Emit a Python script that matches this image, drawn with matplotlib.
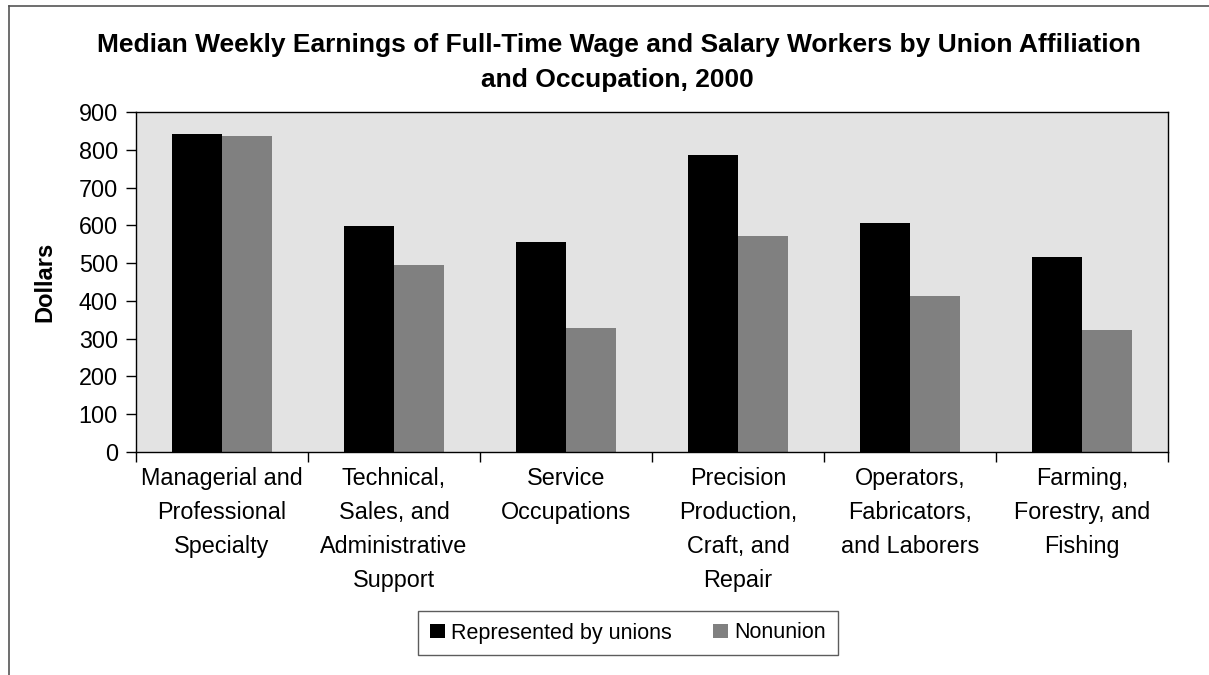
import matplotlib
matplotlib.use("Agg")
import matplotlib.pyplot as plt
import numpy as np
from matplotlib.lines import Line2D

plt.rcParams['font.family'] = ['Liberation Sans', 'DejaVu Sans']

categories = [
    "Managerial and\nProfessional\nSpecialty",
    "Technical,\nSales, and\nAdministrative\nSupport",
    "Service\nOccupations",
    "Precision\nProduction,\nCraft, and\nRepair",
    "Operators,\nFabricators,\nand Laborers",
    "Farming,\nForestry, and\nFishing",
]
union = [841, 597, 555, 785, 605, 515]
nonunion = [836, 496, 327, 571, 412, 324]
series_names = ["Represented by unions", "Nonunion"]
yticks = [0, 100, 200, 300, 400, 500, 600, 700, 800, 900]
title_lines = ["Median Weekly Earnings of Full-Time Wage and Salary Workers by Union Affiliation",
               "and Occupation, 2000"]
ylabel = "Dollars"

W, H = 1209, 675
fig = plt.figure(figsize=(W / 100, H / 100), dpi=100)
fig.patch.set_facecolor('white')

L, R, T, B = 136, 1168, 112, 452
ax = fig.add_axes([L / W, 1 - B / H, (R - L) / W, (B - T) / H])
ax.set_facecolor('#E3E3E3')

x = np.arange(len(categories)) + 0.5
bw = 0.289
ax.bar(x - bw / 2, union, width=bw, color='black', label=series_names[0], zorder=2)
ax.bar(x + bw / 2, nonunion, width=bw, color='#808080', label=series_names[1], zorder=2)

ax.set_xlim(0, len(categories))
ax.set_ylim(0, 900)
ax.set_yticks(yticks)
ax.set_yticklabels([str(v) for v in yticks], fontsize=16.8)
ax.set_xticks(x)
ax.set_xticklabels(categories, fontsize=16.8, linespacing=1.6)
ax.set_xticks(np.arange(len(categories) + 1), minor=True)
ax.tick_params(axis='x', which='major', length=0, pad=11)
ax.tick_params(axis='x', which='minor', length=7, width=1, direction='out', color='black')
ax.tick_params(axis='y', which='major', length=7, width=1, direction='out', pad=6, color='black')
for s in ax.spines.values():
    s.set_color('black')
    s.set_linewidth(1.0)

ax.set_ylabel(ylabel, fontsize=17, fontweight='bold', va='center')
ax.yaxis.set_label_coords(-0.088, 0.5)

fig.text(619 / W, 1 - 52 / H, title_lines[0], fontsize=19, fontweight='bold',
         ha='center', va='baseline')
fig.text(617 / W, 1 - 87 / H, title_lines[1], fontsize=19, fontweight='bold',
         ha='center', va='baseline')

leg = fig.legend(loc='center', bbox_to_anchor=(628 / W, 1 - 633 / H), ncol=2,
                 fontsize=15.5, frameon=True, fancybox=False, shadow=False,
                 handlelength=0.7, handleheight=0.6, handletextpad=0.3,
                 columnspacing=1.9, borderpad=0.55)
leg.get_frame().set_edgecolor('#333333')
leg.get_frame().set_linewidth(1.0)

# outer chart border (left and top edges visible)
fig.add_artist(Line2D([8.5 / W, 8.5 / W], [0, 1 - 6 / H], transform=fig.transFigure,
                      color='#555555', linewidth=1.2))
fig.add_artist(Line2D([8.5 / W, 1], [1 - 6 / H, 1 - 6 / H], transform=fig.transFigure,
                      color='#555555', linewidth=1.2))

fig.savefig('out.png', dpi=100)
